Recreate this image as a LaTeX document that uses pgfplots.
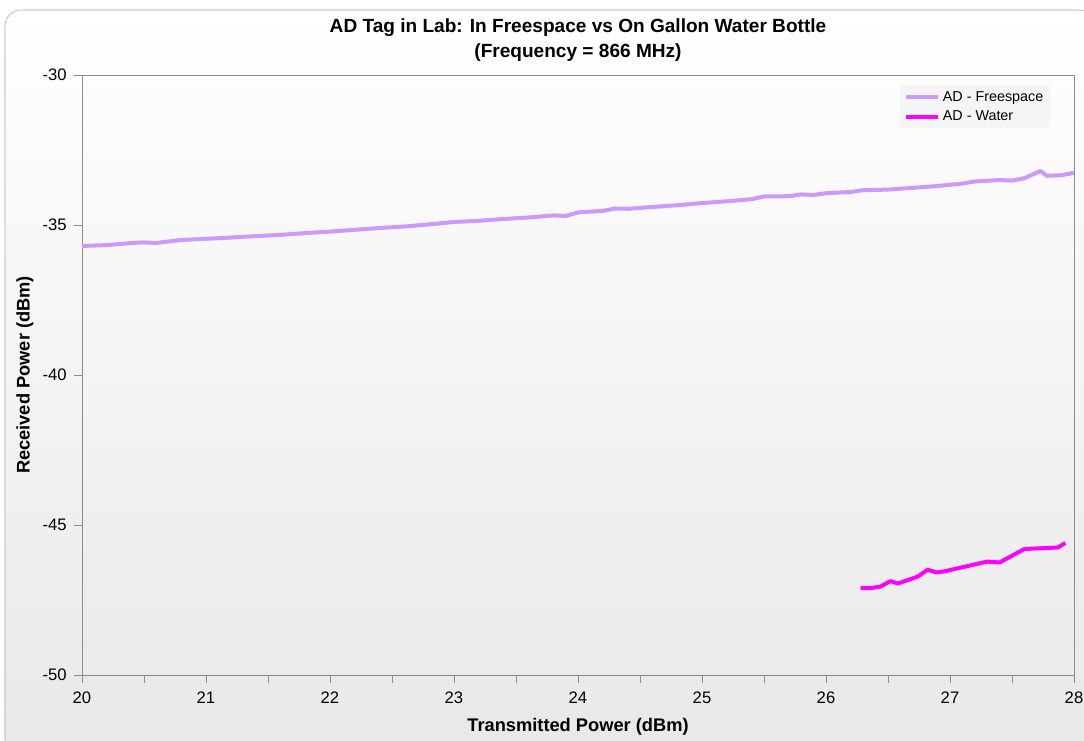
\documentclass[border=0pt]{standalone}
\usepackage{pgfplots}
\pgfplotsset{compat=1.18}
\usepackage{fontspec}
\setmainfont{Liberation Sans}
\usetikzlibrary{backgrounds}

\definecolor{freespace}{HTML}{CC99FF}
\definecolor{water}{HTML}{FF00FF}
\definecolor{axisgray}{HTML}{8C8C8C}

\begin{document}
\begin{tikzpicture}
\begin{axis}[
  at={(0,0)}, anchor=south west,
  scale only axis,
  width=744pt, height=450pt,
  xmin=20, xmax=28, ymin=-50, ymax=-30,
  xtick={20,21,...,28}, ytick={-50,-45,...,-30},
  minor x tick num=1,
  tick align=outside, tickwidth=6pt, subtickwidth=6pt,
  tick style={axisgray, thin},
  axis line style={axisgray, thin},
  xtick pos=bottom, ytick pos=left,
  /pgf/number format/assume math mode=true,
  ticklabel style={font=\fontsize{12.5}{14}\selectfont},
  xticklabel style={yshift=-3pt},
  yticklabel style={xshift=-2pt},
  title={AD Tag in Lab: In Freespace vs On Gallon Water Bottle\\(Frequency = 866 MHz)},
  title style={font=\bfseries\fontsize{14.3}{19}\selectfont, align=center, yshift=0.5pt},
  xlabel={Transmitted Power (dBm)},
  ylabel={Received Power (dBm)},
  label style={font=\bfseries\fontsize{13.7}{16}\selectfont},
  xlabel style={yshift=-4pt},
  ylabel style={yshift=0pt},
  legend style={at={(0.976,0.984)}, anchor=north east, draw=none, fill=black!4,
    font=\fontsize{10.75}{13}\selectfont, row sep=1.5pt, inner sep=3pt},
  legend cell align=left,
  legend image code/.code={\draw[#1] (0pt,0pt) -- (24pt,0pt);},
]
\addplot[freespace, line width=3pt, line join=round] coordinates {
(20.0,-35.70) (20.2,-35.67) (20.4,-35.60) (20.5,-35.58) (20.6,-35.60)
(20.8,-35.50) (21.0,-35.46) (21.2,-35.42) (21.4,-35.37) (21.6,-35.33)
(21.8,-35.27) (22.0,-35.22) (22.2,-35.16) (22.4,-35.10) (22.6,-35.05)
(22.8,-34.98) (23.0,-34.90) (23.2,-34.86) (23.4,-34.80) (23.6,-34.75)
(23.8,-34.68) (23.9,-34.70) (24.0,-34.58) (24.2,-34.53) (24.3,-34.45)
(24.4,-34.46) (24.6,-34.40) (24.8,-34.34) (25.0,-34.27) (25.2,-34.21)
(25.4,-34.14) (25.5,-34.05) (25.7,-34.04) (25.8,-33.98) (25.9,-34.00)
(26.0,-33.94) (26.2,-33.90) (26.3,-33.84) (26.5,-33.82) (26.7,-33.76)
(26.9,-33.70) (27.1,-33.62) (27.2,-33.55) (27.4,-33.50) (27.5,-33.52)
(27.6,-33.44) (27.73,-33.20) (27.78,-33.36) (27.9,-33.34) (28.0,-33.26)
};
\addlegendentry{AD - Freespace}
\addplot[water, line width=3pt, line join=round] coordinates {
(26.28,-47.10) (26.37,-47.10) (26.44,-47.05) (26.52,-46.87) (26.58,-46.95)
(26.74,-46.72) (26.82,-46.49) (26.89,-46.58) (26.95,-46.55) (27.30,-46.22)
(27.40,-46.25) (27.60,-45.80) (27.87,-45.75) (27.93,-45.60)
};
\addlegendentry{AD - Water}
\end{axis}
\begin{scope}[on background layer]
  \shade[top color=white, bottom color=black!9, draw=black!35, rounded corners=12pt]
    (-57.75pt,-60pt) rectangle (760pt,498.75pt);
\end{scope}
\pgfresetboundingbox
\path[use as bounding box] (-61.5pt,-48.75pt) rectangle (751.5pt,506.25pt);
\end{tikzpicture}
\end{document}
